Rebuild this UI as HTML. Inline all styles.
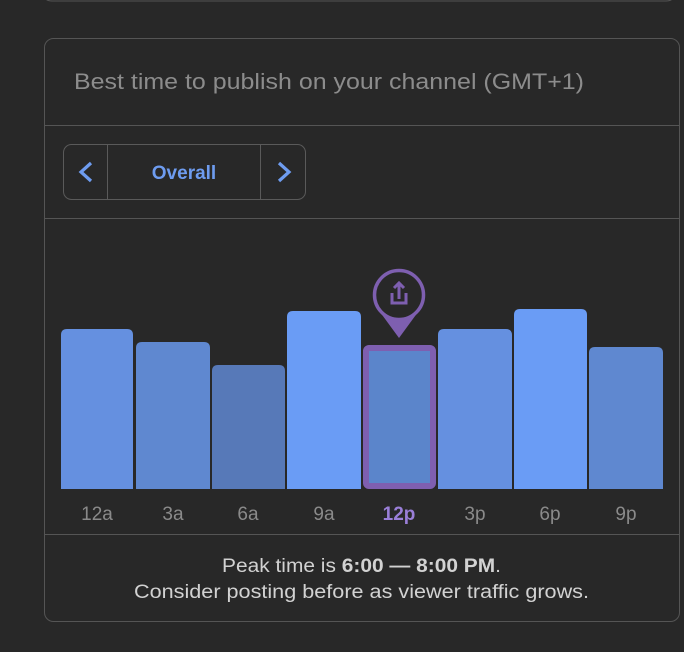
<!DOCTYPE html>
<html><head><style>
html,body{margin:0;padding:0;background:#282828;width:684px;height:652px;overflow:hidden}
svg{display:block}
text{font-family:"Liberation Sans",sans-serif}
</style></head><body>
<svg width="684" height="652" viewBox="0 0 684 652">
<rect width="684" height="652" fill="#282828"/>
<path d="M44 -10 V-6 Q44 1 52 1 H666 Q674 1 674 -6 V-10" fill="none" stroke="#555" stroke-width="1"/>
<rect x="44.5" y="38.5" width="635" height="583" rx="9" fill="#282828" stroke="#555"/>
<text x="74" y="89" font-size="22" fill="#8c8c8c" textLength="510" lengthAdjust="spacingAndGlyphs">Best time to publish on your channel (GMT+1)</text>
<line x1="44" y1="125.5" x2="680" y2="125.5" stroke="#555"/>
<rect x="63.5" y="144.5" width="242" height="55" rx="8" fill="none" stroke="#5a5a5a"/>
<line x1="107.5" y1="145" x2="107.5" y2="199" stroke="#5a5a5a"/>
<line x1="260.5" y1="145" x2="260.5" y2="199" stroke="#5a5a5a"/>
<path d="M91 163 L81 172 L91 181" fill="none" stroke="#6e9cf0" stroke-width="3.2"/>
<path d="M279 163 L289 172 L279 181" fill="none" stroke="#6e9cf0" stroke-width="3.2"/>
<text x="184" y="179" font-size="19" font-weight="bold" fill="#6e9cf0" text-anchor="middle">Overall</text>
<line x1="44" y1="218.5" x2="680" y2="218.5" stroke="#555"/>
<path d="M61 489 V335 Q61 329 67 329 H127 Q133 329 133 335 V489Z" fill="#6590e0"/>
<path d="M136 489 V348 Q136 342 142 342 H204 Q210 342 210 348 V489Z" fill="#5f88d0"/>
<path d="M212 489 V371 Q212 365 218 365 H279 Q285 365 285 371 V489Z" fill="#5779b8"/>
<path d="M287 489 V317 Q287 311 293 311 H355 Q361 311 361 317 V489Z" fill="#6a9cf5"/>
<rect x="366" y="348" width="67" height="138" rx="3" fill="#5b85cb" stroke="#7e5fb0" stroke-width="6"/>
<path d="M438 489 V335 Q438 329 444 329 H506 Q512 329 512 335 V489Z" fill="#6590e0"/>
<path d="M514 489 V315 Q514 309 520 309 H581 Q587 309 587 315 V489Z" fill="#6a9cf5"/>
<path d="M589 489 V353 Q589 347 595 347 H657 Q663 347 663 353 V489Z" fill="#5f88d0"/>
<path d="M380 312 L399 338 L418 312Z" fill="#7e5fb0"/>
<circle cx="399" cy="295" r="24.5" fill="#282828" stroke="#7e5fb0" stroke-width="3.5"/>
<path d="M392 293 V303 H406 V293" fill="none" stroke="#7e5fb0" stroke-width="3"/>
<path d="M399 299 V284 M394 288 L399 283 L404 288" fill="none" stroke="#7e5fb0" stroke-width="3"/>
<g font-size="19" fill="#8a8a8a" text-anchor="middle">
<text x="97" y="520">12a</text>
<text x="173" y="520">3a</text>
<text x="248" y="520">6a</text>
<text x="324" y="520">9a</text>
<text x="399" y="520" font-weight="bold" fill="#9a7fd8">12p</text>
<text x="475" y="520">3p</text>
<text x="550" y="520">6p</text>
<text x="626" y="520">9p</text>
</g>
<line x1="44" y1="534.5" x2="680" y2="534.5" stroke="#555"/>
<g font-size="19" fill="#d2d2d2">
<text x="222" y="572" textLength="279" lengthAdjust="spacingAndGlyphs">Peak time is <tspan font-weight="bold">6:00 — 8:00 PM</tspan>.</text>
<text x="134" y="598" textLength="455" lengthAdjust="spacingAndGlyphs">Consider posting before as viewer traffic grows.</text>
</g>
</svg>
</body></html>
